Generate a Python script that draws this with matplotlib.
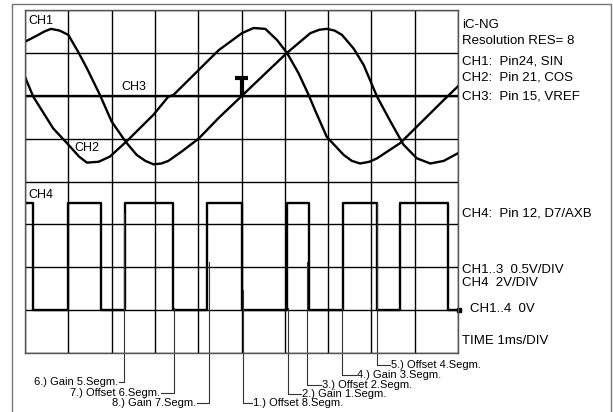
import matplotlib
matplotlib.use("Agg")
import matplotlib.pyplot as plt
from matplotlib.lines import Line2D

plt.rcParams['font.family'] = ['Liberation Sans', 'DejaVu Sans']

# ---------------- data (time in ms, voltage in V) ----------------
ch1_t = [0.0, 0.27, 0.45, 0.60, 0.80, 1.00, 1.23, 1.43, 1.73, 2.00, 2.33, 2.58, 2.78, 2.97, 3.15,
         3.31, 3.62, 4.01, 4.47, 4.99, 5.55, 6.05, 6.59, 6.80, 6.97, 7.15, 7.32, 7.59, 7.82, 8.13,
         8.44, 8.74, 9.05, 9.36, 9.67, 10.0]
ch1_v = [3.13, 3.20, 3.25, 3.28, 3.26, 3.21, 3.01, 2.82, 2.51, 2.20, 1.96, 1.81, 1.74, 1.70, 1.71,
         1.74, 1.85, 2.00, 2.24, 2.49, 2.76, 3.00, 3.23, 3.27, 3.28, 3.26, 3.21, 3.05, 2.86, 2.49,
         2.20, 1.93, 1.77, 1.71, 1.74, 1.83]

ch2_t = [0.0, 0.19, 0.65, 1.00, 1.25, 1.43, 1.70, 1.96, 2.35, 2.97, 3.31, 3.43, 4.01, 4.47, 5.01,
         5.28, 5.55, 5.82, 6.05, 6.32, 6.55, 6.70, 6.97, 7.36, 7.55, 7.74, 7.95, 8.13, 8.67, 9.13,
         9.67, 10.0]
ch2_v = [2.72, 2.49, 2.12, 1.93, 1.79, 1.72, 1.73, 1.79, 1.97, 2.28, 2.49, 2.51, 2.80, 3.03, 3.23,
         3.29, 3.28, 3.15, 3.00, 2.76, 2.51, 2.33, 2.02, 1.81, 1.74, 1.71, 1.73, 1.77, 1.95, 2.18,
         2.45, 2.61]

ch3_t = [0.0, 10.0]
ch3_v = [2.5, 2.5]

ch4_t = [0.0, 0.19, 1.00, 1.76, 2.31, 3.41, 4.21, 5.00, 6.05, 6.56, 7.34, 8.13, 8.67, 9.78, 10.0]
ch4_v = [5, 0, 5, 0, 5, 0, 5, 0, 5, 0, 5, 0, 5, 0, 0]

trigger_t = 5.0

ann_labels = ["1.) Offset 8.Segm.", "2.) Gain 1.Segm.", "3.) Offset 2.Segm.", "4.) Gain 3.Segm.",
              "5.) Offset 4.Segm.", "6.) Gain 5.Segm.", "7.) Offset 6.Segm.", "8.) Gain 7.Segm."]
ann_edge = [5.04, 6.08, 6.52, 7.32, 8.13, 2.29, 3.44, 4.25]

right_texts = ["iC-NG", "Resolution RES= 8", "CH1:  Pin24, SIN", "CH2:  Pin 21, COS",
               "CH3:  Pin 15, VREF", "CH4:  Pin 12, D7/AXB", "CH1..3  0.5V/DIV", "CH4  2V/DIV",
               "TIME 1ms/DIV"]

# --------------- scales: divisions ---------------
V_PER_DIV_13 = 0.5
V_PER_DIV_4 = 2.0
ZERO_DIV = 1.0


def to_div(v, vpd):
    return [ZERO_DIV + x / vpd for x in v]


W, H = 613, 412
fig = plt.figure(figsize=(W / 100, H / 100), dpi=100)
fig.patch.set_facecolor('white')

GX0, GX1, GY0, GY1 = 25, 458, 10, 353
ax = fig.add_axes([GX0 / W, (H - GY1) / H, (GX1 - GX0) / W, (GY1 - GY0) / H])
ax.set_xlim(0, 10)
ax.set_ylim(0, 8)
ax.set_xticks(range(11))
ax.set_yticks(range(9))
ax.tick_params(length=0, labelbottom=False, labelleft=False)
ax.grid(True, color='black', lw=1.0)
ax.set_axisbelow(True)
for s in ax.spines.values():
    s.set_color('#555555')
    s.set_linewidth(1.0)

pxx = (GX1 - GX0) / 10.0
pxy = (GY1 - GY0) / 8.0


def px2d(x, y):
    return (x - GX0) / pxx, (GY1 - y) / pxy


lw = 1.7
ax.plot(ch1_t, to_div(ch1_v, V_PER_DIV_13), color='black', lw=lw)
ax.plot(ch2_t, to_div(ch2_v, V_PER_DIV_13), color='black', lw=lw)
ax.plot(ch3_t, to_div(ch3_v, V_PER_DIV_13), color='black', lw=lw)
ax.plot(ch4_t, to_div(ch4_v, V_PER_DIV_4), color='black', lw=lw, drawstyle='steps-post')

# trigger marker
ref = to_div([2.5], V_PER_DIV_13)[0]
ax.plot([trigger_t, trigger_t], [ref, ref + 0.42], color='black', lw=3.0, solid_capstyle='butt')
ax.plot([trigger_t - 0.15, trigger_t + 0.15], [ref + 0.42, ref + 0.42], color='black', lw=3.0,
        solid_capstyle='butt')

fs_lab = 9
for txt, (x, y) in [("CH1", (28, 21)), ("CH3", (121, 87)), ("CH2", (74, 148)), ("CH4", (28, 195))]:
    dx, dy = px2d(x, y)
    ax.text(dx, dy, txt, fontsize=fs_lab, ha='left', va='center')

# right side texts
fs_r = 9.5
ypos = [25, 40.5, 62, 78, 96.5, 214, 270, 283.5, 341.5]
for txt, y in zip(right_texts, ypos):
    dx, dy = px2d(462, y)
    ax.text(dx, dy, txt, fontsize=fs_r, ha='left', va='center', clip_on=False)
dx, dy = px2d(470, 309)
ax.text(dx, dy, "CH1..4  0V", fontsize=fs_r, ha='left', va='center', clip_on=False)
ax.plot([10.03], [ZERO_DIV], marker='s', ms=3.5, color='black', clip_on=False)

# annotations
fs_a = 8
ann_top = [290, 308, 262, 308, 203, 213, 308, 262]
ann_y = [403, 394, 385, 375, 365, 382, 393, 403]
ann_text_x = [252, 301, 321, 356, 390, 119, 161, 197]
for i, lab in enumerate(ann_labels):
    ex = ann_edge[i]
    _, ytop = px2d(0, ann_top[i])
    tx, ty = px2d(ann_text_x[i], ann_y[i])
    ax.plot([ex, ex, tx], [ytop, ty, ty], color='#333333', lw=0.8, clip_on=False)
    if i < 5:
        ax.text(tx + 0.02, ty, lab, fontsize=fs_a, ha='left', va='center', clip_on=False)
    else:
        ax.text(tx - 0.02, ty, lab, fontsize=fs_a, ha='right', va='center', clip_on=False)

# outer frame
fig.add_artist(Line2D([12 / W, 12 / W, 611 / W, 611 / W], [0, 1 - 4 / H, 1 - 4 / H, 0],
                      transform=fig.transFigure, color='#777777', lw=1.0))

fig.savefig('out.png', dpi=100)
